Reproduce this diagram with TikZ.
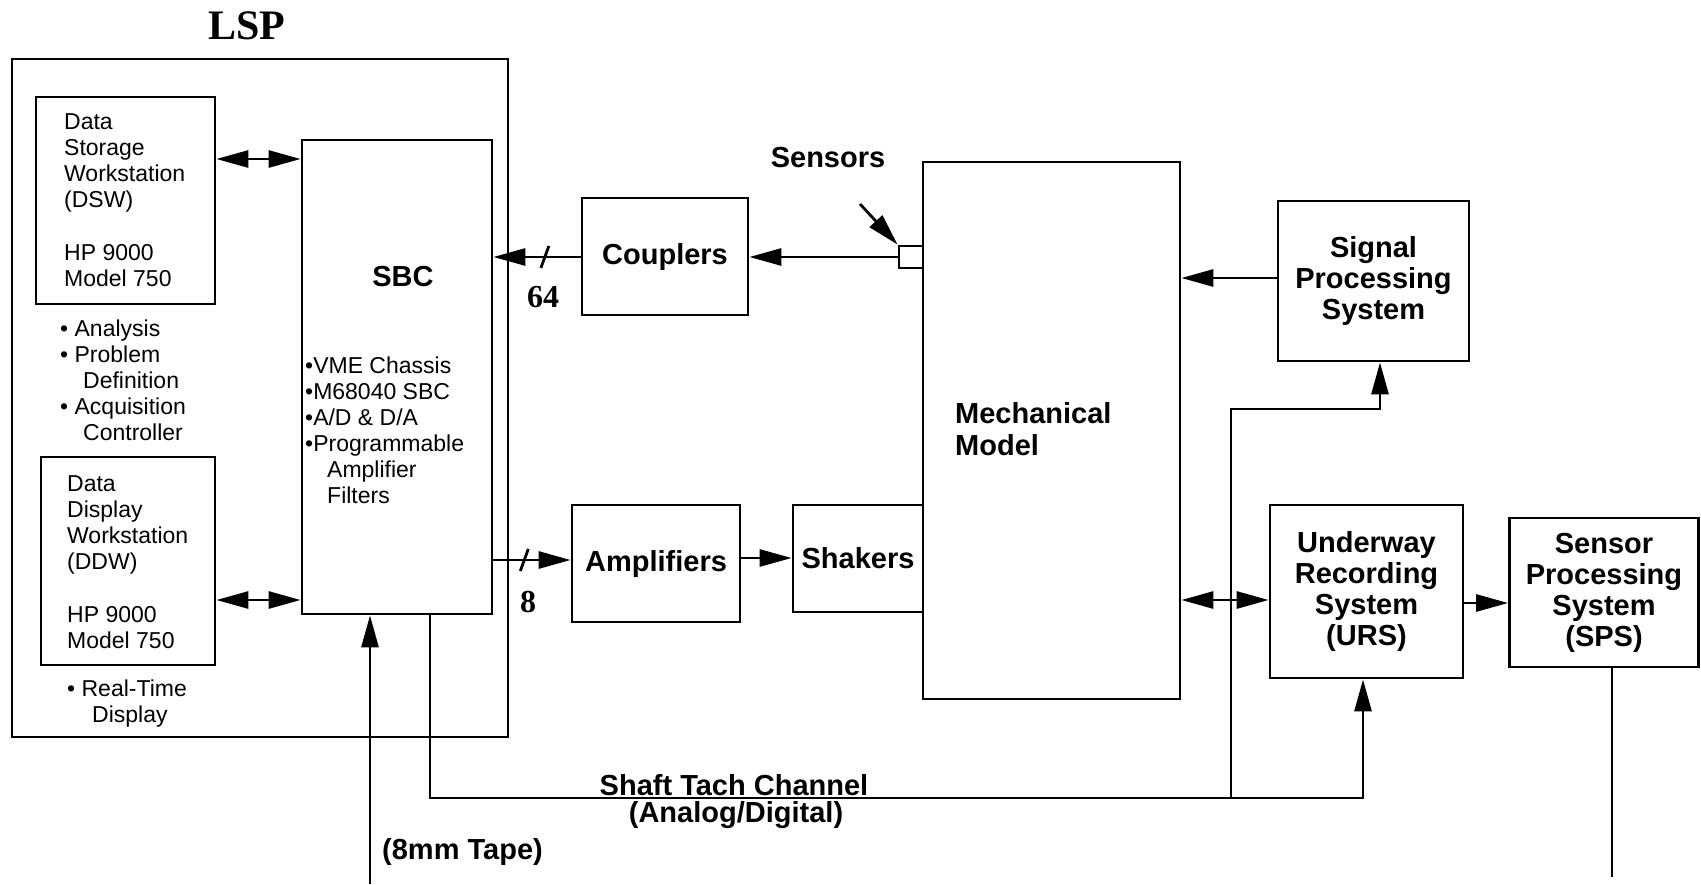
\documentclass[tikz,border=0pt]{standalone}
\usepackage{fontspec}
\setmainfont{Liberation Sans}
\newfontfamily\tnrfont{Liberation Serif}
\usetikzlibrary{arrows.meta}

% text sizes (1pt = 1 unit of the drawing grid)
\newcommand\txtfont{\fontsize{23}{26}\selectfont}
\newcommand\lblfont{\fontsize{29}{31}\selectfont\bfseries}
\newcommand\busfont{\tnrfont\bfseries\fontsize{32}{32}\selectfont}

\begin{document}
\begin{tikzpicture}[x=1pt, y=-1pt,
  wire/.style={line width=2.8pt},
  arr/.style={wire, -{Triangle[length=32pt,width=17pt]}},
  darr/.style={wire, {Triangle[length=32pt,width=17pt]}-{Triangle[length=32pt,width=17pt]}},
  box/.style={draw, line width=2.8pt, inner sep=0pt, align=center, font=\lblfont},
  % multi-line text blocks are placed by the baseline of their last line
  txt/.style={inner sep=0pt, align=left, font=\txtfont, anchor=base west},
  lbl/.style={inner sep=0pt, align=center, font=\lblfont},
  bus/.style={inner sep=0pt, font=\busfont}
]
\useasboundingbox (0,0) rectangle (1701,884);

% ---- LSP group ----
\node[box, minimum width=496pt, minimum height=678pt] (LSP) at (260,398) {};
\node[inner sep=0pt, font=\tnrfont\bfseries\fontsize{42}{42}\selectfont] (LSPt) at (247,26) {LSP};

\node[box, minimum width=179pt, minimum height=207pt] (DSW) at (125.5,200.5) {};
\node[txt] (DSWt) at (64,286) {Data\\Storage\\Workstation\\(DSW)\\[27pt]HP 9000\\Model 750};
\node[txt] (DSWroles) at (60,440) {• Analysis\\• Problem\\\hspace*{23pt}Definition\\• Acquisition\\\hspace*{23pt}Controller};

\node[box, minimum width=174pt, minimum height=208pt] (DDW) at (128,561) {};
\node[txt] (DDWt) at (67,648) {Data\\Display\\Workstation\\(DDW)\\[27pt]HP 9000\\Model 750};
\node[txt] (DDWroles) at (67,722) {• Real-Time\\\hspace*{25pt}Display};

\node[box, minimum width=190pt, minimum height=474pt] (SBC) at (397,377) {};
\node[lbl] (SBCt) at (403,277) {SBC};
\node[txt] (SBCf) at (305,503) {•VME Chassis\\•M68040 SBC\\•A/D \& D/A\\•Programmable\\\hspace*{22pt}Amplifier\\\hspace*{22pt}Filters};

% ---- signal chain ----
\node[box, minimum width=166pt, minimum height=117pt] (CPL) at (665,256.5) {Couplers};
\node[box, minimum width=168pt, minimum height=117pt] (AMP) at (656,563.5) {Amplifiers};
\node[box, minimum width=130pt, minimum height=107pt] (SHK) at (858,558.5) {Shakers};
\node[box, minimum width=257pt, minimum height=537pt] (MECH) at (1051.5,430.5) {};
\node[lbl, align=left, anchor=base west, font=\lblfont\fontsize{29}{32}\selectfont] (MECHt) at (955,455) {Mechanical\\Model};
\node[draw, line width=2.8pt, fill=white, inner sep=0pt, minimum width=24pt, minimum height=22pt] (SEN) at (911,257) {};
\node[lbl] (SENt) at (828,158) {Sensors};

\node[box, minimum width=191pt, minimum height=160pt] (SIG) at (1373.5,281) {Signal\\Processing\\System};
\node[box, minimum width=193pt, minimum height=173pt] (URS) at (1366.5,591.5) {Underway\\Recording\\System\\(URS)};
\node[box, minimum width=189pt, minimum height=149pt] (SPS) at (1604,592.5) {Sensor\\Processing\\System\\(SPS)};

% ---- labels ----
\node[bus] (n64) at (543,297) {64};
\node[bus] (n8) at (528,602) {8};
\node[lbl] (tach1) at (734,785) {Shaft Tach Channel};
\node[lbl] (tach2) at (736,815) {(Analog/Digital)};
\node[lbl, anchor=west] (tape) at (382,852) {(8mm Tape)};

% ---- connectors ----
\draw[darr] (DSW.east |- 0,159) -- (SBC.west |- 0,159);
\draw[darr] (DDW.east |- 0,600) -- (SBC.west |- 0,600);

\draw[arr] (SEN.west) -- (CPL.east |- SEN.west);
\draw[arr] (CPL.west |- 0,257) -- coordinate[pos=0.41] (slash64) (SBC.east |- 0,257);
\draw[wire] (slash64) ++(-4,11) -- ++(8,-22);
\coordinate (senarrow) at (860,204);
\draw[arr] (senarrow) -- (SEN.north west);

\draw[arr] (SBC.east |- 0,560) -- coordinate[pos=0.4] (slash8) (AMP.west |- 0,560);
\draw[wire] (slash8) ++(-4,11) -- ++(8,-22);
\draw[arr] (AMP.east |- 0,558) -- (SHK.west |- 0,558);

\draw[arr] (SIG.west |- 0,278) -- (MECH.east |- 0,278);
\draw[darr] (MECH.east |- 0,600) -- (URS.west |- 0,600);
\draw[arr] (URS.east |- 0,603) -- (SPS.west |- 0,603);

% tape input
\coordinate (tapein) at (370,884);
\draw[arr] (tapein) -- (tapein |- SBC.south);

% shaft tach channel
\coordinate (tachL) at (430,798);
\coordinate (tachJ) at (1231,798);
\coordinate (tachR) at (1363,798);
\coordinate (sigbend) at (1231,409);
\coordinate (sigup) at (1380,409);
\draw[arr] (tachL |- SBC.south) -- (tachL) -- (tachR) -- (tachR |- URS.south);
\draw[arr] (tachJ) -- (sigbend) -- (sigup) -- (sigup |- SIG.south);

% SPS output
\coordinate (spsout) at (1612,877);
\draw[wire] (spsout |- SPS.south) -- (spsout);
\end{tikzpicture}
\end{document}
